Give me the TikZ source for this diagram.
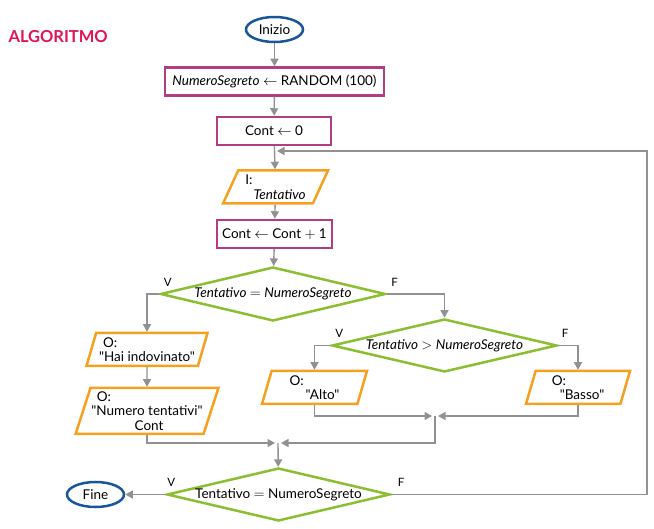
\documentclass[tikz,border=0pt]{standalone}
\usepackage{fontspec}
\setmainfont{Lato}[Ligatures=TeXOff]
\usepackage{tikz}
\usetikzlibrary{positioning,arrows.meta,shapes.geometric}

\definecolor{algored}{RGB}{226,20,85}
\definecolor{termblue}{RGB}{25,85,155}
\definecolor{procpink}{RGB}{180,60,130}
\definecolor{ioorange}{RGB}{245,160,30}
\definecolor{decgreen}{RGB}{140,190,50}
\definecolor{flowgray}{RGB}{145,145,145}

\begin{document}
\begin{tikzpicture}[x=1pt,y=-1pt,
  font=\fontsize{13.5}{14.5}\selectfont,
  term/.style={ellipse,draw=termblue,line width=2.5pt,minimum width=57pt,minimum height=25pt,inner sep=0pt},
  proc/.style={rectangle,draw=procpink,line width=2.5pt,minimum height=28pt,inner sep=0pt},
  iobox/.style={trapezium,trapezium left angle=70,trapezium right angle=110,trapezium stretches body,
    draw=ioorange,line width=2.5pt,minimum height=33pt,inner sep=1pt,align=left},
  test/.style={diamond,draw=decgreen,line width=2.5pt,inner sep=0pt,aspect=4.2},
  flow/.style={draw=flowgray,line width=1.4pt,-{Triangle[length=7.5pt,width=8pt]}},
  branch/.style={font=\fontsize{11.5}{13}\selectfont}]

  \useasboundingbox (0,0) rectangle (654,529);

  \node[text=algored,font=\bfseries\fontsize{16.5}{19}\selectfont,anchor=west] (title) at (5,37) {ALGORITMO};

  \node[term] (start) at (274.5,29.5) {Inizio};
  \node[proc,minimum width=219pt] (rand) at (274.5,81.5) {\textit{NumeroSegreto} $\leftarrow$ RANDOM (100)};
  \node[proc,minimum width=114pt] (init) at (274,131) {Cont $\leftarrow$ 0};
  \node[iobox,trapezium left angle=60,trapezium right angle=120,minimum width=105pt] (guess) at (275.5,187) {I:\\\hspace*{0.6em}\textit{Tentativo}};
  \node[proc,minimum width=115pt] (count) at (274.5,234) {Cont $\leftarrow$ Cont $+$ 1};
  \node[test,minimum width=225pt,minimum height=54pt] (same) at (273,294) {\textit{Tentativo} $=$ \textit{NumeroSegreto}};

  \node[iobox,minimum width=121pt] (win) at (147,349.5) {\hspace*{0.3em}O:\\"Hai indovinato"};
  \node[iobox,minimum width=141pt,minimum height=46pt] (tries) at (147,411) {\hspace*{0.4em}O:\\"Numero tentativi"\\\hspace*{3.2em}Cont};

  \node[test,minimum width=225pt,minimum height=53pt] (high) at (444.5,345.5) {\textit{Tentativo} $>$ \textit{NumeroSegreto}};
  \node[iobox,minimum width=105pt] (alto) at (314.5,387.5) {O:\\\hspace*{1.2em}"Alto"};
  \node[iobox,minimum width=104pt] (basso) at (578,387.5) {O:\\\hspace*{0.6em}"Basso"};

  \node[test,minimum width=223pt,minimum height=53pt] (again) at (278.5,494.5) {Tentativo $=$ NumeroSegreto};
  \node[term] (stop) at (95.5,494.5) {Fine};

  \node[branch,above right=4pt and 1pt of same.west] (sameV) {V};
  \node[branch,above right=4pt and 1pt of same.east] (sameF) {F};
  \node[branch,above right=4pt and 1pt of high.west] (highV) {V};
  \node[branch,above right=4pt and 0pt of high.east] (highF) {F};
  \node[branch,above right=4pt and -2pt of again.west] (againV) {V};
  \node[branch,above right=4pt and 3pt of again.east] (againF) {F};

  \coordinate (merge) at (435,416);
  \coordinate (join) at (278,443);
  \coordinate (back) at (647,151);

  \draw[flow] (start) -- (rand);
  \draw[flow] (rand) -- (init);
  \draw[flow] (init) -- (guess);
  \draw[flow] (guess) -- (count);
  \draw[flow] (count) -- (same);

  \draw[flow] (same.west) -| (win.north);
  \draw[flow] (win) -- (tries);
  \draw[flow] (same.east) -| (high.north);
  \draw[flow] (high.west) -| (alto.north);
  \draw[flow] (high.east) -| (basso.north);

  \draw[flow,shorten >=3pt] (alto.south) |- (merge);
  \draw[flow,shorten >=3pt] (basso.south) |- (merge);
  \draw[flow,shorten >=3pt] (merge) |- (join);
  \draw[flow,shorten >=3pt] (tries.south) |- (join);
  \draw[flow] (join) -- (again);

  \draw[flow] (again) -- (stop);
  \draw[flow,shorten >=3pt] (again.east) -| (back) -- (back -| init.south);
\end{tikzpicture}
\end{document}
